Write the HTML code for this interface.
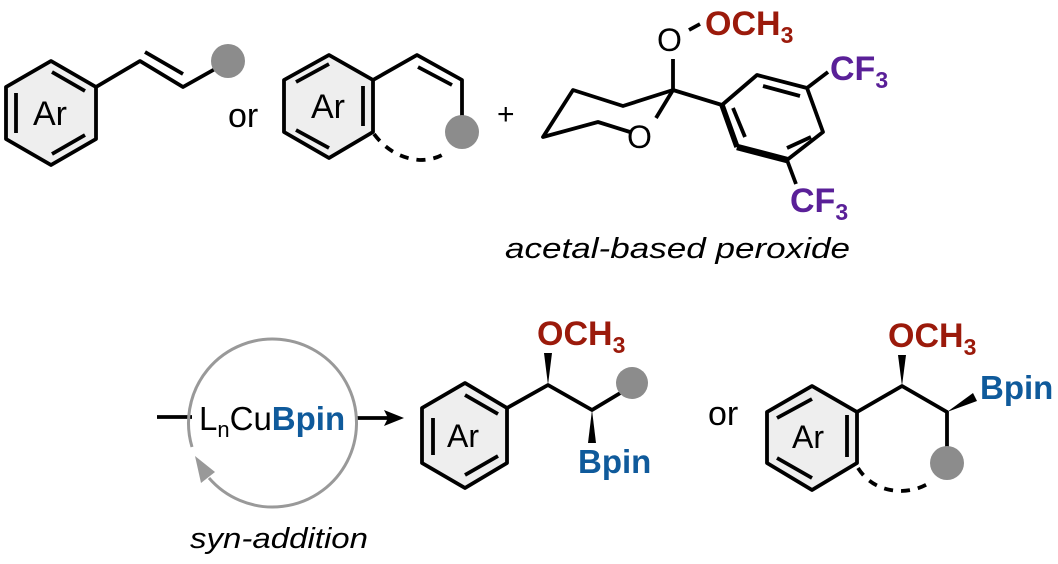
<!DOCTYPE html>
<html><head><meta charset="utf-8"><style>
html,body{margin:0;padding:0;background:#fff;}
svg{display:block;}
text{font-family:"Liberation Sans",Arial,sans-serif;}
</style></head><body>
<svg width="1058" height="564" viewBox="0 0 1058 564" xmlns="http://www.w3.org/2000/svg">
<g stroke="#000" stroke-width="3.8" fill="none" stroke-linejoin="round" stroke-linecap="butt">
<polygon points="51,61 96,87 96,139 51,165 6,139 6,87" fill="#eeeeee"/>
<line x1="16" y1="93" x2="16" y2="133"/>
<line x1="52" y1="72" x2="85" y2="91"/>
<line x1="52" y1="154" x2="85" y2="135"/>
<polyline points="96,87 140,61 183,87 215,69"/>
<line x1="145" y1="52" x2="183" y2="74"/>
<polygon points="329,55 373,80 373,132 329,158 284,132 284,80" fill="#eeeeee"/>
<line x1="296" y1="82" x2="329" y2="64"/>
<line x1="363" y1="86" x2="363" y2="126"/>
<line x1="296" y1="130" x2="329" y2="148"/>
<polyline points="373,80 417,55 462,80 462,120"/>
<line x1="418" y1="67" x2="452" y2="85"/>
<path d="M374,134 Q392,158 420,160 Q437,160 448,151" stroke-dasharray="9,8"/>
<line x1="673" y1="90" x2="673" y2="59"/>
<line x1="689" y1="30" x2="700" y2="24"/>
<polyline points="673,90 623,106 573,90 543,137 598,122 630,132"/>
<line x1="656" y1="118" x2="673" y2="90"/>
<line x1="673" y1="90" x2="722" y2="105"/>
<polyline points="722,105 757,75 807,88 823,132 787,160"/>
<line x1="722" y1="105" x2="737" y2="147" stroke-width="5.5"/>
<line x1="737" y1="147" x2="787" y2="160" stroke-width="6.5"/>
<line x1="763" y1="86" x2="800" y2="96"/>
<line x1="733" y1="108" x2="745" y2="137"/>
<line x1="787" y1="148" x2="811" y2="137"/>
<line x1="807" y1="88" x2="828" y2="72"/>
<line x1="787" y1="160" x2="796" y2="184"/>
<line x1="157" y1="417" x2="192" y2="417"/>
<line x1="357" y1="418" x2="388" y2="418"/>
<polygon points="465,383 507,408 507,463 465,488 422,463 422,408" fill="#eeeeee"/>
<line x1="433" y1="418" x2="433" y2="455"/>
<line x1="465" y1="395" x2="498" y2="414"/>
<line x1="465" y1="475" x2="498" y2="456"/>
<polyline points="507,408 548,385 592,410 622,392"/>
<polygon points="812,386 857,412 857,463 812,490 767,463 767,412" fill="#eeeeee"/>
<line x1="777" y1="418" x2="812" y2="399"/>
<line x1="847" y1="415" x2="847" y2="457"/>
<line x1="777" y1="458" x2="812" y2="478"/>
<polyline points="857,412 902,386 947,412 947,450"/>
<path d="M858,468 Q872,490 900,491 Q917,491 931,482" stroke-dasharray="9,8"/>
</g>
<polygon points="404,418 384,410 388,418 384,426" fill="#000"/>
<path d="M192,447 A84,84 0 1,1 209,478" stroke="#999" stroke-width="3" fill="none"/>
<polygon points="195,456 201,483 215,472" fill="#999"/>
<polygon points="548,385 544,353 552,353" fill="#000"/>
<polygon points="592,410 588,443 596,443" fill="#000"/>
<polygon points="902,386 898,355 906,355" fill="#000"/>
<polygon points="947,412 973,393 977,401" fill="#000"/>
<g fill="#8c8c8c">
<circle cx="228" cy="61" r="17"/>
<circle cx="462" cy="132" r="17"/>
<circle cx="632" cy="383" r="16"/>
<circle cx="947" cy="463" r="17"/>
</g>
<g font-size="34" fill="#000">
<text x="33" y="125">Ar</text>
<text x="311" y="118">Ar</text>
<text x="228" y="127">or</text>
<text x="497" y="124" font-size="30">+</text>
<text x="447" y="447" font-size="32">Ar</text>
<text x="792" y="448" font-size="32">Ar</text>
<text x="708" y="425">or</text>
<text x="657" y="51" font-size="32">O</text>
<text x="627" y="148" font-size="32">O</text>
</g>
<g font-weight="bold" font-size="34" fill="#9b1a0b">
<text x="705" y="35">OCH<tspan font-size="23" dy="8">3</tspan></text>
<text x="537" y="345">OCH<tspan font-size="23" dy="8">3</tspan></text>
<text x="888" y="347">OCH<tspan font-size="23" dy="8">3</tspan></text>
</g>
<g font-weight="bold" font-size="34" fill="#5a2098">
<text x="830" y="80">CF<tspan font-size="23" dy="8">3</tspan></text>
<text x="790" y="212">CF<tspan font-size="23" dy="8">3</tspan></text>
</g>
<text x="505" y="258" font-size="29" font-style="italic" textLength="345" lengthAdjust="spacingAndGlyphs">acetal-based peroxide</text>
<text x="199" y="430" font-size="33">L<tspan font-size="22" dy="7">n</tspan><tspan dy="-7">Cu</tspan><tspan font-weight="bold" fill="#0f5a9b">Bpin</tspan></text>
<text x="190" y="548" font-size="29" font-style="italic" textLength="178" lengthAdjust="spacingAndGlyphs">syn-addition</text>
<g font-weight="bold" font-size="33" fill="#0f5a9b">
<text x="578" y="473">Bpin</text>
<text x="980" y="399">Bpin</text>
</g>
</svg>
</body></html>
